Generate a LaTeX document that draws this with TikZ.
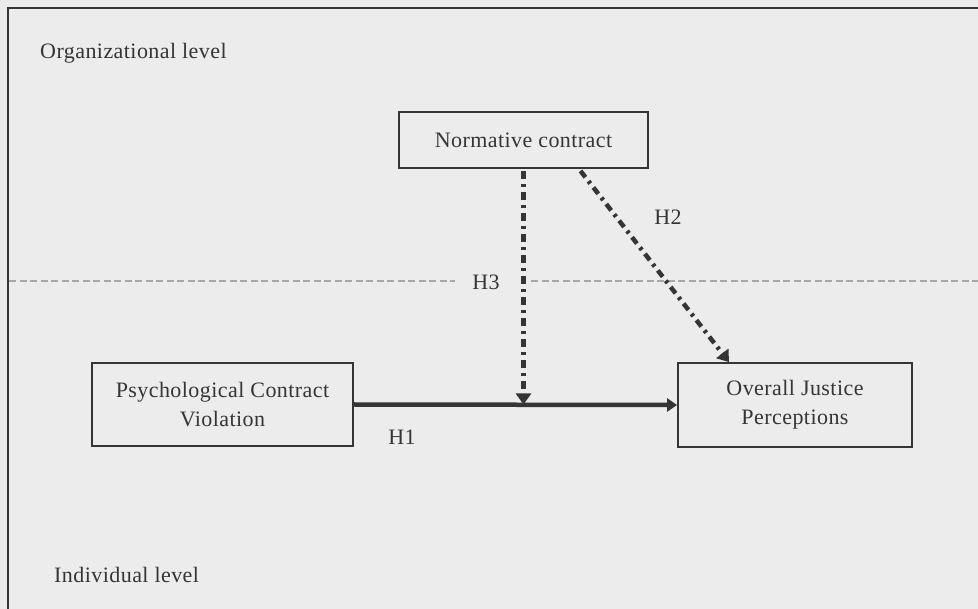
\documentclass[tikz,border=0pt]{standalone}
\usepackage{fontspec}
\setmainfont{Liberation Serif}[LetterSpace=2]
\usetikzlibrary{arrows.meta,calc}
\definecolor{paper}{HTML}{ECECEC}
\definecolor{ink}{HTML}{353535}
\definecolor{sep}{HTML}{A8A8A8}
\tikzset{
  every node/.style={font=\fontsize{22}{29}\selectfont, text=ink},
  box/.style={draw=ink, line width=1.8pt, align=center, inner sep=0pt},
  tag/.style={inner sep=0pt, anchor=base west},
  hyp/.style={inner sep=0pt},
  level line/.style={sep, line width=2pt, dash pattern=on 7pt off 3.5pt},
  solidarrow/.style={draw=ink, line width=4.5pt, -{Triangle[width=13pt,length=10pt]}},
  dotarrow/.style={draw=ink, line width=4.5pt, dash pattern=on 8pt off 5pt on 3pt off 5pt,
                   -{Triangle[width=15pt,length=11pt]}},
}
\begin{document}
\begin{tikzpicture}[x=1pt,y=-1pt]
  \useasboundingbox (0,0) rectangle (978,609);
  \fill[paper] (0,0) rectangle (978,609);
  % outer frame (only its top and left edges fall on the page)
  \draw[ink, line width=2pt] (8,620) -- (8,8) -- (990,8);

  % level labels
  \node[tag] (org) at (40,59) {Organizational level};
  \node[tag] (ind) at (54,582) {Individual level};

  % constructs
  \node[box, minimum width=249pt, minimum height=56pt] (norm) at (523.5,140) {Normative contract};
  \node[box, minimum width=261pt, minimum height=83pt] (pcv) at (222.5,404.5) {Psychological Contract\\Violation};
  \node[box, minimum width=234pt, minimum height=84pt] (ojp) at (795,405) {Overall Justice\\Perceptions};

  % hypothesis labels
  \node[hyp] (h1) at (402,437) {H1};
  \node[hyp] (h2) at (668,217) {H2};
  \node[hyp] (h3) at (486,282) {H3};

  % boundary between the two levels
  \draw[level line] (9,281) -- (455,281);
  \draw[level line] (531,281) -- (978,281);

  % relations
  \coordinate (h1mid) at (norm.south |- pcv.east);
  \draw[solidarrow] (pcv.east) -- (ojp.west);
  \draw[dotarrow] ($(norm.south)+(0,2)$) -- (h1mid);
  \draw[dotarrow] ($(norm.south)+(57,2)$) -- ($(ojp.north)+(-66,0)$);
\end{tikzpicture}
\end{document}
